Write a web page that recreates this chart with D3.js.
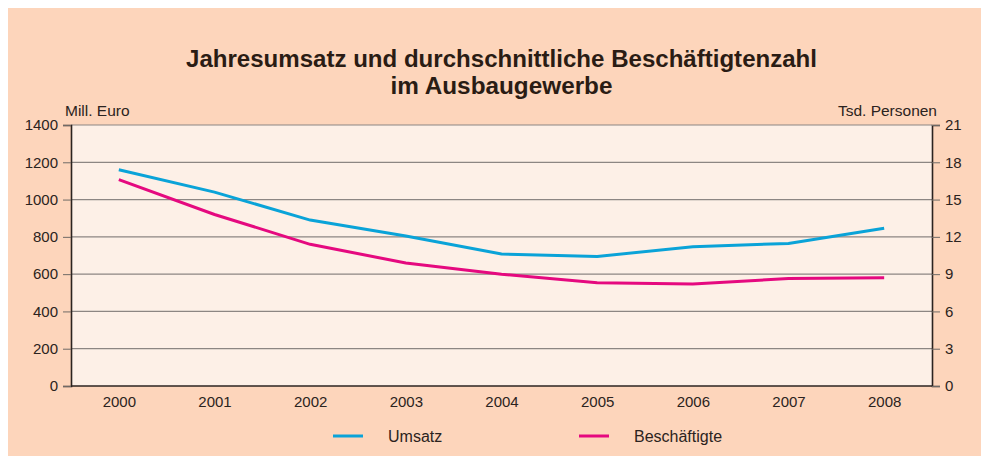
<!DOCTYPE html>
<html>
<head>
<meta charset="utf-8">
<script src="https://cdn.jsdelivr.net/npm/d3@7"></script>
<style>
  body { margin: 0; background: #fff; }
  svg { display: block; font-family: "Liberation Sans", Arial, sans-serif; }
</style>
</head>
<body>
<svg id="chart"></svg>
<script>
// Data
const years = ["2000", "2001", "2002", "2003", "2004", "2005", "2006", "2007", "2008"];
const umsatz = [1160, 1040, 890, 805, 708, 695, 747, 765, 846];          // Mill. Euro
const beschaeftigte = [16.6, 13.8, 11.4, 9.9, 9.0, 8.3, 8.2, 8.65, 8.7]; // Tsd. Personen
const leftTicks = [0, 200, 400, 600, 800, 1000, 1200, 1400];
const rightTicks = [0, 3, 6, 9, 12, 15, 18, 21];

const W = 981, H = 456;
const svg = d3.select("#chart").attr("width", W).attr("height", H);

// outer background
svg.append("rect").attr("x", 8).attr("y", 8).attr("width", W - 8).attr("height", H - 8)
  .attr("fill", "#fdd5bb");

const m = { left: 71, right: 932, top: 125, bottom: 386 };

// plot background
svg.append("rect")
  .attr("x", m.left).attr("y", m.top)
  .attr("width", m.right - m.left).attr("height", m.bottom - m.top)
  .attr("fill", "#fdf0e7");

const x = d3.scalePoint().domain(years).range([m.left, m.right]).padding(0.5);
const yL = d3.scaleLinear().domain([0, 1400]).range([m.bottom, m.top]);
const yR = d3.scaleLinear().domain([0, 21]).range([m.bottom, m.top]);

// gridlines
svg.append("g").selectAll("line")
  .data(leftTicks.filter(d => d > 0))
  .join("line")
  .attr("x1", m.left).attr("x2", m.right)
  .attr("y1", d => yL(d)).attr("y2", d => yL(d))
  .attr("stroke", "#8c8683").attr("stroke-width", 1.2);

// left axis
const axL = svg.append("g").attr("transform", `translate(${m.left},0)`)
  .call(d3.axisLeft(yL).tickValues(leftTicks).tickFormat(d3.format("d")).tickSize(8).tickPadding(5));
// right axis
const axR = svg.append("g").attr("transform", `translate(${m.right},0)`)
  .call(d3.axisRight(yR).tickValues(rightTicks).tickFormat(d3.format("d")).tickSize(8).tickPadding(5));
// bottom axis
const axB = svg.append("g").attr("transform", `translate(0,${m.bottom})`)
  .call(d3.axisBottom(x).tickSize(0).tickPadding(10));
axB.select(".domain").attr("d", `M${m.left},0H${m.right}`);

[axL, axR, axB].forEach(a => {
  a.select(".domain").attr("stroke", "#2b2320").attr("stroke-width", 1.6);
  a.selectAll(".tick line").attr("stroke", "#6f6a66").attr("stroke-width", 1);
  a.selectAll("text").attr("fill", "#2b2320")
    .style("font-family", "Liberation Sans, Arial, sans-serif").style("font-size", "15px");
});

// axis titles
svg.append("text").attr("x", 65).attr("y", 116).text("Mill. Euro")
  .attr("font-size", 15.5).attr("fill", "#2b2320");
svg.append("text").attr("x", 937).attr("y", 116).attr("text-anchor", "end").text("Tsd. Personen")
  .attr("font-size", 15.5).attr("fill", "#2b2320");

// lines
const lineL = d3.line().x((d, i) => x(years[i])).y(d => yL(d));
const lineR = d3.line().x((d, i) => x(years[i])).y(d => yR(d));
const blue = "#0aa3d8", pink = "#e5097f";
svg.append("path").datum(umsatz).attr("d", lineL)
  .attr("fill", "none").attr("stroke", blue).attr("stroke-width", 3);
svg.append("path").datum(beschaeftigte).attr("d", lineR)
  .attr("fill", "none").attr("stroke", pink).attr("stroke-width", 3);

// title
const title = svg.append("text").attr("text-anchor", "middle")
  .attr("font-weight", "bold").attr("font-size", 23).attr("fill", "#2a1c14");
title.append("tspan").attr("x", 501.5).attr("y", 67)
  .attr("textLength", 631).attr("lengthAdjust", "spacingAndGlyphs")
  .text("Jahresumsatz und durchschnittliche Beschäftigtenzahl");
title.append("tspan").attr("x", 501.5).attr("y", 94)
  .attr("textLength", 222).attr("lengthAdjust", "spacingAndGlyphs")
  .text("im Ausbaugewerbe");

// legend
const legend = [
  { name: "Umsatz", color: blue, x: 333 },
  { name: "Beschäftigte", color: pink, x: 579 }
];
const lg = svg.append("g").selectAll("g").data(legend).join("g")
  .attr("transform", d => `translate(${d.x},436)`);
lg.append("line").attr("x1", 0).attr("x2", 30).attr("y1", 0).attr("y2", 0)
  .attr("stroke", d => d.color).attr("stroke-width", 3);
lg.append("text").attr("x", 55).attr("y", 6).text(d => d.name)
  .attr("font-size", 16).attr("fill", "#2b2320");
</script>
</body>
</html>
